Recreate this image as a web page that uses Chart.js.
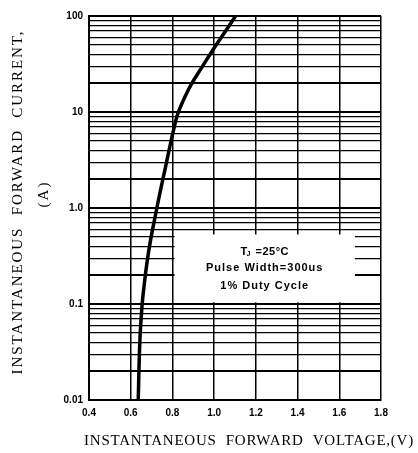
<!DOCTYPE html>
<html>
<head>
<meta charset="utf-8">
<script src="https://cdn.jsdelivr.net/npm/chart.js@4.4.1/dist/chart.umd.min.js"></script>
<style>
  html, body { margin: 0; padding: 0; background: #fff; }
  #wrap { width: 418px; height: 453px; position: relative; }
</style>
</head>
<body>
<div id="wrap"><canvas id="fwdChart"></canvas></div>
<script>
// forward voltage (V) vs instantaneous forward current (A)
const voltage = [0.636, 0.644, 0.655, 0.665, 0.678, 0.695, 0.722, 0.742, 0.764, 0.786, 0.804, 0.823, 0.850, 0.889, 0.940, 1.000, 1.055, 1.103];
const current = [0.01, 0.042, 0.1, 0.16, 0.27, 0.46, 0.92, 1.5, 2.5, 4.2, 6.3, 9.2, 12.9, 19.2, 29, 46.5, 69.8, 100];

const xTicks = [0.4, 0.6, 0.8, 1.0, 1.2, 1.4, 1.6, 1.8];
const yDecades = [0.01, 0.1, 1, 10, 100];
const yTickLabels = ['0.01', '0.1', '1.0', '10', '100'];
const noteLines = ['Pulse Width=300us', '1% Duty Cycle'];

// helpers
function mantissa(v) {
  return v / Math.pow(10, Math.floor(Math.log10(v) + 1e-9));
}

function fitText(ctx, text, target) {
  ctx.letterSpacing = '0px';
  const w = ctx.measureText(text).width;
  ctx.letterSpacing = ((target - w) / text.length) + 'px';
}

// white note box + its text, drawn over the grid but under the curve
const noteBox = {
  id: 'noteBox',
  beforeDatasetsDraw(chart) {
    const { ctx, scales: { x, y } } = chart;
    const l = x.getPixelForValue(0.81), r = x.getPixelForValue(1.675);
    const t = y.getPixelForValue(0.53), b = y.getPixelForValue(0.104);
    ctx.save();
    ctx.fillStyle = '#fff';
    ctx.fillRect(l, t, r - l, b - t);
    ctx.fillStyle = '#000';
    ctx.textBaseline = 'middle';
    ctx.textAlign = 'left';
    const cx = (l + r) / 2;
    // T_J =25°C line
    ctx.font = 'bold 11px "Liberation Sans"';
    ctx.letterSpacing = '0.5px';
    const tW = ctx.measureText('T').width;
    ctx.font = 'bold 7px "Liberation Sans"';
    const jW = ctx.measureText('J').width;
    ctx.font = 'bold 11px "Liberation Sans"';
    const rest = ' =25\u00B0C';
    const rW = ctx.measureText(rest).width;
    let sx = cx - (tW + jW + rW) / 2;
    const ly = t + 17;
    ctx.fillText('T', sx, ly);
    ctx.font = 'bold 7px "Liberation Sans"';
    ctx.fillText('J', sx + tW - 1, ly + 3);
    ctx.font = 'bold 11px "Liberation Sans"';
    ctx.fillText(rest, sx + tW + jW, ly);
    ctx.textAlign = 'center';
    ctx.letterSpacing = '1px';
    ctx.fillText(noteLines[0], cx, t + 33);
    ctx.fillText(noteLines[1], cx, t + 51);
    ctx.restore();
  }
};

// axis titles with wide letter spacing, like the datasheet
const axisTitles = {
  id: 'axisTitles',
  afterDraw(chart) {
    const { ctx } = chart;
    ctx.save();
    ctx.fillStyle = '#000';
    ctx.textAlign = 'center';
    ctx.textBaseline = 'middle';
    ctx.font = '15px "Liberation Serif"';
    const xt = 'INSTANTANEOUS  FORWARD  VOLTAGE,(V)';
    fitText(ctx, xt, 330);
    ctx.fillText(xt, 249, 441);

    ctx.translate(18, 202);
    ctx.rotate(-Math.PI / 2);
    const yt = 'INSTANTANEOUS  FORWARD  CURRENT,';
    fitText(ctx, yt, 345);
    ctx.fillText(yt, 0, 0);
    ctx.restore();

    ctx.save();
    ctx.fillStyle = '#000';
    ctx.textAlign = 'center';
    ctx.textBaseline = 'middle';
    ctx.font = '15px "Liberation Serif"';
    ctx.translate(44, 194);
    ctx.rotate(-Math.PI / 2);
    ctx.letterSpacing = '2px';
    ctx.fillText('(A)', 0, 0);
    ctx.restore();
  }
};

const ctx = document.getElementById('fwdChart').getContext('2d');
new Chart(ctx, {
  type: 'line',
  data: {
    datasets: [{
      data: voltage.map((v, i) => ({ x: v, y: current[i] })),
      borderColor: '#000',
      borderWidth: 3.5,
      pointRadius: 0,
      fill: false,
      tension: 0.4
    }]
  },
  options: {
    responsive: true,
    maintainAspectRatio: false,
    animation: false,
    layout: { padding: { left: 0, right: 37, top: 16, bottom: 0 } },
    plugins: {
      legend: { display: false },
      tooltip: { enabled: false }
    },
    scales: {
      x: {
        type: 'linear',
        min: xTicks[0],
        max: xTicks[xTicks.length - 1],
        afterBuildTicks(scale) {
          scale.ticks = xTicks.map(v => ({ value: v }));
        },
        afterFit(scale) { scale.height = 53; },
        grid: { color: '#000', lineWidth: 1.5, drawTicks: false },
        border: { color: '#000', width: 2 },
        ticks: {
          color: '#000',
          padding: 7,
          font: { family: 'Liberation Sans', size: 10, weight: 'bold' },
          callback: v => Number(v).toFixed(1)
        }
      },
      y: {
        type: 'logarithmic',
        min: yDecades[0],
        max: yDecades[yDecades.length - 1],
        afterBuildTicks(scale) {
          const ticks = [];
          for (let d = 0; d < yDecades.length - 1; d++) {
            for (let m = 1; m <= 9; m++) ticks.push({ value: yDecades[d] * m });
          }
          ticks.push({ value: yDecades[yDecades.length - 1] });
          scale.ticks = ticks;
        },
        afterFit(scale) { scale.width = 89; },
        grid: {
          color: '#000',
          drawTicks: false,
          lineWidth: c => {
            const m = Math.round(mantissa(c.tick.value));
            return (m === 1 || m === 2) ? 2 : 1.3;
          }
        },
        border: { color: '#000', width: 2 },
        ticks: {
          color: '#000',
          padding: 6,
          autoSkip: false,
          font: { family: 'Liberation Sans', size: 10, weight: 'bold' },
          callback: v => {
            const i = yDecades.findIndex(d => Math.abs(d - v) / d < 1e-6);
            return i >= 0 ? yTickLabels[i] : '';
          }
        }
      }
    }
  },
  plugins: [noteBox, axisTitles]
});
</script>
</body>
</html>
